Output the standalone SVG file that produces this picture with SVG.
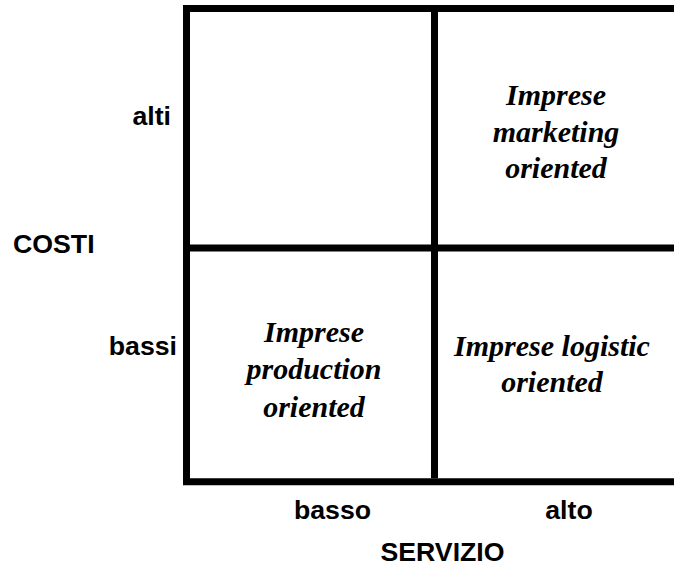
<svg xmlns="http://www.w3.org/2000/svg" width="674" height="571" viewBox="0 0 674 571">
<style>
.ln{stroke:#000;stroke-width:7;fill:none;stroke-linecap:butt}
.ax{font-family:"Liberation Sans",Arial,sans-serif;font-weight:bold;font-size:26.7px;fill:#000}
.q{font-family:"Liberation Serif","Times New Roman",serif;font-weight:bold;font-style:italic;font-size:30px;fill:#000;text-anchor:middle}
</style>
<rect width="674" height="571" fill="#fff"/>
<g id="grid">
<line class="ln" x1="183" y1="8.5" x2="674" y2="8.5"/>
<line class="ln" x1="186.5" y1="5" x2="186.5" y2="485"/>
<line class="ln" x1="183" y1="481.7" x2="674" y2="481.7"/>
<line class="ln" x1="434.5" y1="12" x2="434.5" y2="478.3"/>
<line class="ln" x1="190" y1="248" x2="674" y2="248"/>
</g>
<g id="axis-costi">
<text class="ax" x="13" y="253.3">COSTI</text>
<text class="ax" x="171" y="125" text-anchor="end">alti</text>
<text class="ax" x="177" y="355" text-anchor="end">bassi</text>
</g>
<g id="axis-servizio">
<text class="ax" x="442.5" y="560.7" text-anchor="middle">SERVIZIO</text>
<text class="ax" x="332.5" y="519.3" text-anchor="middle">basso</text>
<text class="ax" x="569" y="519.3" text-anchor="middle">alto</text>
</g>
<g id="q-marketing">
<text class="q" x="556" y="105">Imprese</text>
<text class="q" x="556" y="141.7">marketing</text>
<text class="q" x="556" y="178">oriented</text>
</g>
<g id="q-production">
<text class="q" x="314" y="341.7">Imprese</text>
<text class="q" x="314" y="379">production</text>
<text class="q" x="314" y="416.5">oriented</text>
</g>
<g id="q-logistic">
<text class="q" x="552" y="356">Imprese logistic</text>
<text class="q" x="552" y="391.7">oriented</text>
</g>
</svg>
